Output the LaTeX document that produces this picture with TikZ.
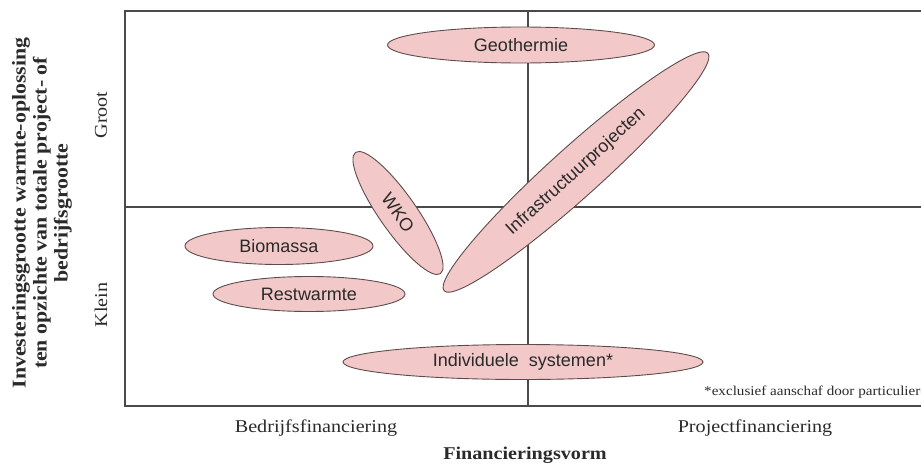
\documentclass[tikz,border=0pt]{standalone}
\usepackage{fontspec}
\setmainfont{Liberation Serif}[FakeStretch=1.12]
\newfontfamily\lblfont{Liberation Sans}
\usetikzlibrary{shapes.geometric}
\definecolor{blobfill}{HTML}{F2C8C8}
\definecolor{blobline}{HTML}{5E4C4C}
\definecolor{axisline}{HTML}{4A4A4A}
\definecolor{txt}{HTML}{2A2A2A}
\tikzset{
  blob/.style={ellipse, draw=blobline, fill=blobfill, line width=0.9pt, inner sep=0pt,
    font=\lblfont\fontsize{18}{20}\selectfont, text=txt},
  axis/.style={draw=axisline, line width=1.1pt},
  serif/.style={font=\fontsize{18}{20}\selectfont, text=txt},
}
\begin{document}
\begin{tikzpicture}[x=1pt,y=-1pt]
\useasboundingbox (0,0) rectangle (921,466);
% frame
\coordinate (tl) at (125,11);
\coordinate (tr) at (921,11);
\coordinate (bl) at (125,406);
\coordinate (br) at (921,406);
\coordinate (vt) at (528,11);
\coordinate (vb) at (528,406);
\coordinate (hl) at (125,207);
\coordinate (hr) at (921,207);
\draw[axis] (tr) -- (tl) -- (bl) -- (br);
\draw[axis] (vt) -- (vb);
\draw[axis] (hl) -- (hr);
% ellipses
\node[blob, minimum width=267, minimum height=36] (geo) at (521,45) {Geothermie};
\node[blob, minimum width=148, minimum height=37, rotate=-55] (wko) at (398,213) {WKO};
\node[blob, minimum width=355, minimum height=50, rotate=42] (infra) at (576,172) {Infrastructuurprojecten};
\node[blob, minimum width=188, minimum height=37] (bio) at (279,246) {Biomassa};
\node[blob, minimum width=192, minimum height=35] (rest) at (309,294) {Restwarmte};
\node[blob, minimum width=360, minimum height=35] (indiv) at (523,362) {Individuele\ \ systemen*};
% footnote
\node[anchor=west, inner sep=0pt, font=\fontsize{13.5}{15}\selectfont, text=txt] (note) at (704,392) {*exclusief aanschaf door particulieren};
% axis labels
\node[serif] (bedr) at (316,428) {Bedrijfsfinanciering};
\node[serif] (proj) at (755,428) {Projectfinanciering};
\node[font=\bfseries\fontsize{18}{20}\selectfont, text=txt] (finv) at (525,455) {Financieringsvorm};
\node[serif, rotate=90] (groot) at (101,115) {Groot};
\node[serif, rotate=90] (klein) at (101,305) {Klein};
\node[rotate=90, align=center, font=\bfseries\fontsize{19.5}{21}\selectfont, text=txt] (ytitle) at (42,213)
  {Investeringsgrootte warmte-oplossing\\ten opzichte van totale project- of\\bedrijfsgrootte};
\end{tikzpicture}
\end{document}
